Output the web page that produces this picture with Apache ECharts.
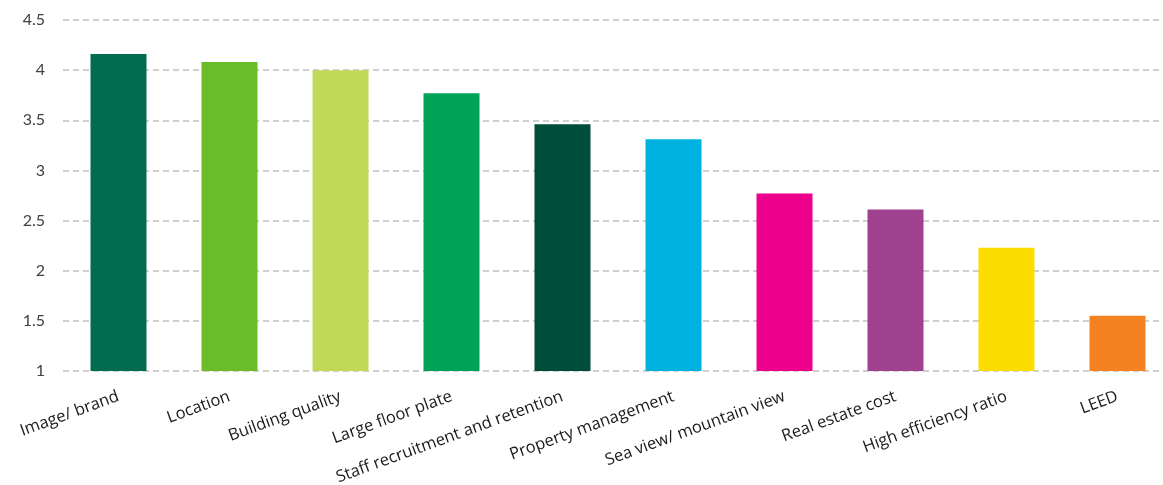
<!DOCTYPE html>
<html>
<head>
<meta charset="utf-8">
<script src="https://cdn.jsdelivr.net/npm/echarts@6/dist/echarts.min.js"></script>
<style>
html,body{margin:0;padding:0;background:#fff;overflow:hidden;width:1163px;height:485px;}
#chart{width:1175px;height:485px;}
</style>
</head>
<body>
<div id="chart"></div>
<script>
const categories = ["Image/ brand","Location","Building quality","Large floor plate","Staff recruitment and retention","Property management","Sea view/ mountain view","Real estate cost","High efficiency ratio","LEED"];
const values = [4.16, 4.08, 4.00, 3.77, 3.46, 3.31, 2.77, 2.61, 2.23, 1.55];
const colors = ["#006B4E","#6ABD28","#C0D957","#00A457","#004D39","#00B2E0","#EC008C","#A0418F","#FDDC00","#F58220"];
const yTicks = {min: 1, max: 4.5, interval: 0.5};

const chart = echarts.init(document.getElementById('chart'));
chart.setOption({
  animation: false,
  grid: {left: 63, top: 20, width: 1110, height: 351, containLabel: false, outerBoundsMode: 'none'},
  xAxis: {
    type: 'category',
    data: categories,
    axisLine: {show: false},
    axisTick: {show: false},
    axisLabel: {rotate: 20, interval: 0, margin: 25, fontSize: 16.5, color: '#1a1a1a', fontFamily: 'Open Sans'}
  },
  yAxis: {
    type: 'value',
    min: yTicks.min, max: yTicks.max, interval: yTicks.interval,
    axisLine: {show: false},
    axisTick: {show: false},
    axisLabel: {fontSize: 16, color: '#404040', margin: 18, fontFamily: 'Lato'},
    splitLine: {lineStyle: {type: [6, 4], color: '#c0c0c0', width: 1.5}}
  },
  series: [{
    type: 'bar',
    barWidth: 56,
    data: values.map((v, i) => ({value: v, itemStyle: {color: colors[i]}}))
  }]
});
</script>
</body>
</html>
